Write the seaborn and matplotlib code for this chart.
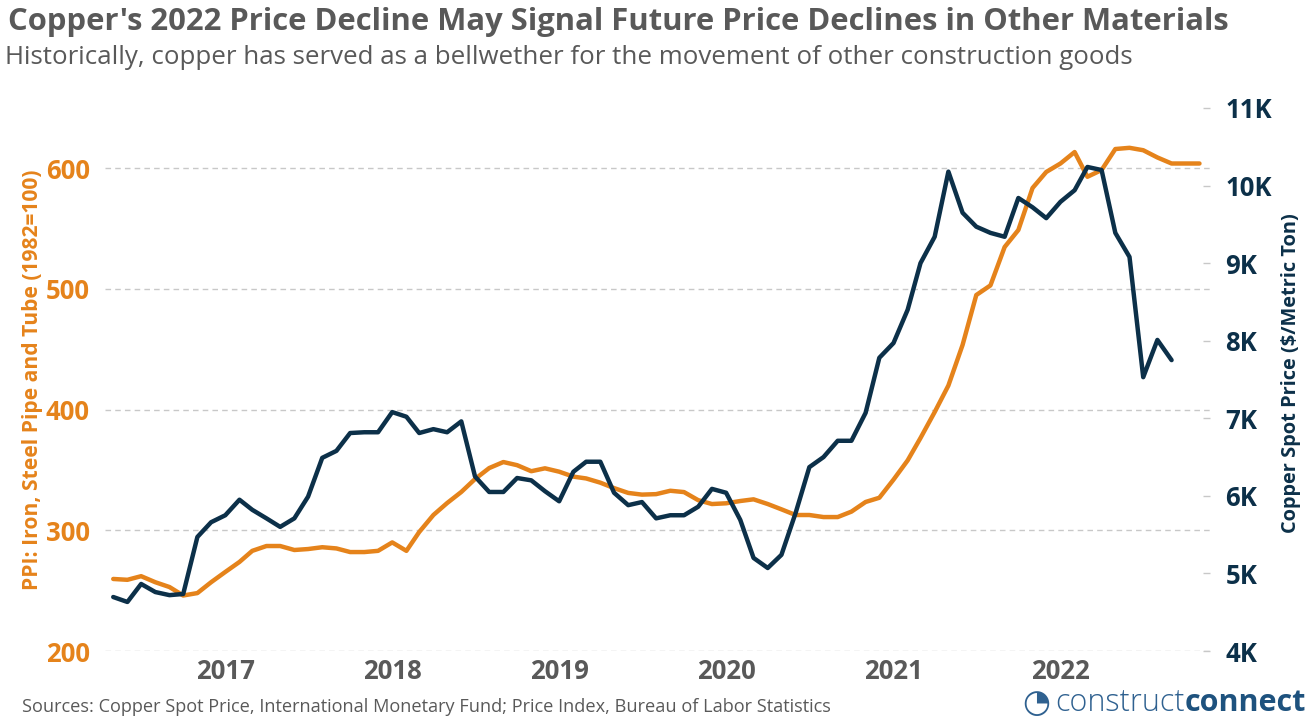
import matplotlib
matplotlib.use("Agg")
import matplotlib.pyplot as plt
import seaborn as sns
import pandas as pd

# ---------------- data ----------------
ppi_start = "2016-05-01"
ppi_values = [
    259.7, 259.0, 262.0, 257.0, 253.0, 246.0, 248.0, 257.0,                      # 2016 May-Dec
    265.5, 273.8, 283.0, 287.0, 287.0, 283.7, 284.5, 286.0, 285.0, 282.0, 282.0, 283.0,  # 2017
    290.0, 283.0, 298.6, 312.7, 322.6, 331.8, 342.5, 351.6, 356.6, 354.0, 349.0, 351.4,  # 2018
    348.6, 344.5, 343.0, 339.5, 335.0, 331.0, 329.6, 330.0, 332.8, 331.7, 325.0, 321.8,  # 2019
    322.4, 324.3, 325.7, 321.8, 317.4, 312.7, 312.7, 311.0, 311.0, 315.5, 323.5, 327.0,  # 2020
    342.0, 358.0, 376.5, 398.0, 420.0, 453.6, 495.0, 503.0, 534.8, 548.9, 583.7, 597.0,  # 2021
    604.0, 613.5, 593.0, 598.6, 616.0, 617.0, 615.0, 609.0, 604.0, 604.0, 604.0,         # 2022 Jan-Nov
]
copper_start = "2016-05-01"
copper_values = [
    4696, 4632, 4864, 4760, 4720, 4735, 5470, 5660,                               # 2016 May-Dec
    5750, 5950, 5820, 5710, 5600, 5710, 5990, 6490, 6580, 6810, 6820, 6820,       # 2017
    7080, 7020, 6810, 6860, 6820, 6960, 6250, 6050, 6050, 6230, 6200, 6060,       # 2018
    5930, 6310, 6440, 6440, 6040, 5880, 5920, 5710, 5750, 5750, 5860, 6090,       # 2019
    6040, 5690, 5200, 5070, 5240, 5780, 6370, 6500, 6710, 6710, 7070, 7780,       # 2020
    7970, 8400, 9000, 9340, 10180, 9650, 9470, 9390, 9340, 9840, 9720, 9580,      # 2021
    9790, 9940, 10240, 10200, 9390, 9080, 7530, 8010, 7750,                       # 2022 Jan-Sep
]
left_ticks = [200, 300, 400, 500, 600]
left_tick_labels = ["200", "300", "400", "500", "600"]
right_ticks = [4000, 5000, 6000, 7000, 8000, 9000, 10000, 11000]
right_tick_labels = ["4K", "5K", "6K", "7K", "8K", "9K", "10K", "11K"]
year_ticks = [2017, 2018, 2019, 2020, 2021, 2022]

title = "Copper's 2022 Price Decline May Signal Future Price Declines in Other Materials"
subtitle = "Historically, copper has served as a bellwether for the movement of other construction goods"
left_label = "PPI: Iron, Steel Pipe and Tube (1982=100)"
right_label = "Copper Spot Price ($/Metric Ton)"
source = "Sources: Copper Spot Price, International Monetary Fund; Price Index, Bureau of Labor Statistics"

ppi_df = pd.DataFrame({"date": pd.date_range(ppi_start, periods=len(ppi_values), freq="MS"),
                       "ppi": ppi_values})
cu_df = pd.DataFrame({"date": pd.date_range(copper_start, periods=len(copper_values), freq="MS"),
                      "copper": copper_values})

# ---------------- style ----------------
ORANGE = "#E5831B"
NAVY = "#0C3049"
GRAY = "#595959"
GRID = "#C8C8C8"

sns.set_theme(style="white")
plt.rcParams["font.family"] = ["Open Sans", "DejaVu Sans"]

W, H = 1312, 723
fig = plt.figure(figsize=(W / 100, H / 100), dpi=100)
ax = fig.add_axes([105 / W, 1 - 651 / H, (1210 - 105) / W, (651 - 108) / H])

sns.lineplot(data=ppi_df, x="date", y="ppi", ax=ax, color=ORANGE, linewidth=3.2)
ax2 = ax.twinx()
sns.lineplot(data=cu_df, x="date", y="copper", ax=ax2, color=NAVY, linewidth=3.2)

ax.set_ylim(200, 650)
ax2.set_ylim(4000, 11000)
ax.set_xlim(pd.Timestamp("2016-04-13"), pd.Timestamp("2022-11-24"))

ax.set_yticks(left_ticks)
ax.set_yticklabels(left_tick_labels)
ax2.set_yticks(right_ticks)
ax2.set_yticklabels(right_tick_labels)
ax.set_xticks([pd.Timestamp(f"{y}-01-01") for y in year_ticks])
ax.set_xticklabels([str(y) for y in year_ticks])

ax.grid(axis="y", color=GRID, linestyle=(0, (4, 3)), linewidth=1.0)
ax.grid(axis="x", visible=False)
ax2.grid(False)

for a in (ax, ax2):
    for s in a.spines.values():
        s.set_visible(False)

tick_fs = 18.5
ax.tick_params(axis="y", length=0, pad=11, labelsize=tick_fs, labelcolor=ORANGE)
ax.tick_params(axis="x", length=0, pad=5, labelsize=tick_fs, labelcolor=GRAY)
ax2.tick_params(axis="y", direction="in", length=5, width=1, color=GRID, pad=11,
                labelsize=tick_fs, labelcolor=NAVY)
for lab in ax.get_yticklabels() + ax.get_xticklabels() + ax2.get_yticklabels():
    lab.set_fontweight("bold")

ax.set_xlabel("")
ax.set_ylabel("")
ax2.set_ylabel("")

fig.canvas.draw()
renderer = fig.canvas.get_renderer()

def fitted_text(x, y, s, target, fs, vertical=False, **kw):
    t = fig.text(x / W, 1 - y / H, s, fontsize=fs, **kw)
    bb = t.get_window_extent(renderer)
    size = bb.height if vertical else bb.width
    t.set_fontsize(fs * target / size)
    return t

# axis labels
fitted_text(33, 380, left_label, 421, 14, vertical=True, rotation=90, ha="center",
            va="center", color=ORANGE, fontweight="bold")
fitted_text(1291, 373, right_label, 322, 14, vertical=True, rotation=90, ha="center",
            va="center", color=NAVY, fontweight="bold")

# titles
fitted_text(8, 22, title, 1224, 24, fontweight="bold", color=GRAY, ha="left", va="center")
fitted_text(5, 58, subtitle, 1123, 18, color=GRAY, ha="left", va="center")
fitted_text(22, 707, source, 806, 12, color=GRAY, ha="left", va="center")

# logo text
t1 = fig.text(1055 / W, 1 - 703 / H, "construct", fontsize=22, color="#2F6190",
              ha="left", va="center", fontweight="light")
fig.canvas.draw()
bb = t1.get_window_extent(renderer)
fig.text(bb.x1 / W, 1 - 703 / H, "connect", fontsize=22, color="#1E527E",
         ha="left", va="center", fontweight="bold")
fig.text(1036 / W, 1 - 703 / H, "\u25d4", fontsize=23, color="#2F6190", ha="center", va="center",
         family=["DejaVu Sans"])

fig.savefig("out.png", dpi=100)
